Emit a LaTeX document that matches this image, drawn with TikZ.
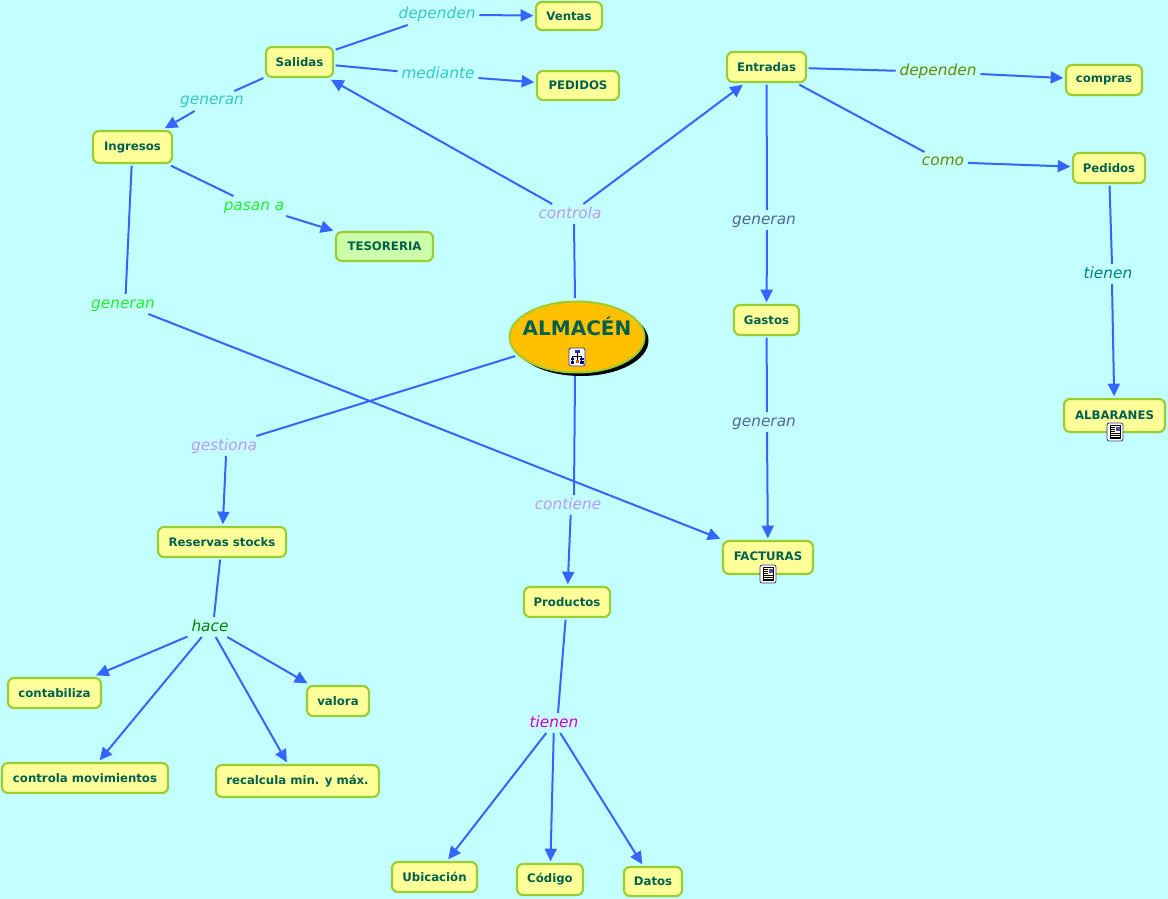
\documentclass[tikz,border=0pt]{standalone}
\usepackage{fontspec}
\setmainfont{DejaVu Sans}
\usetikzlibrary{arrows.meta,shapes.geometric}
\definecolor{bgc}{HTML}{C4FFFF}
\definecolor{boxfill}{HTML}{FFFF99}
\definecolor{greenfill}{HTML}{CCFFAA}
\definecolor{almfill}{HTML}{FFC000}
\definecolor{boxline}{HTML}{9ACD32}
\definecolor{txtc}{HTML}{00604F}
\definecolor{edgec}{HTML}{3366FF}
\definecolor{lcyan}{HTML}{33C8C8}
\definecolor{lgreen}{HTML}{22EE33}
\definecolor{lviolet}{HTML}{BB99EE}
\definecolor{lslate}{HTML}{556699}
\definecolor{lolive}{HTML}{668800}
\definecolor{lteal}{HTML}{008080}
\definecolor{ldgreen}{HTML}{008000}
\definecolor{lmag}{HTML}{CC00CC}
\def\pxu{0.75pt}
\tikzset{
  x=0.75pt,y=-0.75pt,
  conceptbox/.style={draw=boxline,fill=boxfill,line width=1.6pt,rounded corners=4.5pt,inner sep=0pt,outer sep=2pt,
    text=txtc,font=\fontsize{8.8}{11}\selectfont\bfseries},
  linklabel/.style={inner xsep=3pt,inner ysep=1.5pt,outer sep=0pt,text height=9pt,text depth=3pt,font=\fontsize{11.5}{13}\selectfont\itshape},
  link/.style={edgec,line width=1.5pt},
  linkarrow/.style={link,-{Triangle[length=9.5pt,width=9pt]}},
  docicon/.pic={
    \draw[fill=white,draw=blue!45!black!80,line width=.6pt,rounded corners=1.5pt] (-8,-9) rectangle (8,9);
    \fill[yellow!15,draw=black,line width=.4pt] (-5,-6.5) rectangle (5.5,6.5);
    \fill[blue!40!gray] (0.5,-5.5) rectangle (4.5,-1);
    \foreach \yy in {-4.5,-2.5,-.5}{\draw[black,line width=.35pt] (-4,\yy) -- (-.5,\yy);}
    \foreach \yy in {1.5,3.3,5}{\draw[black,line width=.35pt] (-4,\yy) -- (4.5,\yy);}
  },
  mapicon/.pic={
    \draw[fill=white,draw=blue!45!black!80,line width=.6pt,rounded corners=1.5pt] (-8,-9) rectangle (8,9);
    \draw[black,line width=.35pt] (0,-4) -- (0,3) (-4.5,-1) -- (4.5,-1) (-4.5,-1) -- (-4.5,4) (4.5,-1) -- (4.5,4);
    \fill[blue!60!gray] (-2.5,-7) rectangle (2.5,-4);
    \fill[blue!60!black] (-6.5,.5) rectangle (-3,3);
    \fill[blue!60!black] (3,.5) rectangle (6.5,3);
    \fill[orange!80!black] (-1.5,3) rectangle (1.5,6);
    \fill[blue!60!black] (-6.5,4) rectangle (-3,6.5);
    \fill[blue!60!black] (3,4) rectangle (6.5,6.5);
  },
}
\newcommand\bx[7][]{\node[conceptbox,minimum width={(#5-#3)*\pxu},minimum height={(#6-#4)*\pxu},#1] (#2) at ({(#3+#5)/2},{(#4+#6)/2}) {#7};}
\newcommand\lb[4]{\node[linklabel,text=#4] (#1) at (#2) {#3};}
\begin{document}
\begin{tikzpicture}
\path[use as bounding box,fill=bgc] (0,0) rectangle (1168,899);
% central node
\fill[black] (581,340.5) ellipse [x radius=67.5,y radius=35.5];
\node[ellipse,draw=boxline,fill=almfill,line width=1.5pt,minimum width={135*\pxu},minimum height={71*\pxu},inner sep=0pt,outer sep=2.5pt,text=txtc,font=\fontsize{15}{18}\selectfont\bfseries] (alm) at (577,337) {\makebox[0pt]{\raisebox{1pt}[0pt][0pt]{ALMACÉN}}};
% concept boxes
\bx{ventas}{536}{2}{602}{30}{Ventas}
\bx{pedidosa}{537}{71}{619}{100}{PEDIDOS}
\bx{salidas}{266}{47}{333}{77}{Salidas}
\bx{ingresos}{93}{131}{172}{163}{Ingresos}
\bx[fill=greenfill]{tesoreria}{336}{232}{433}{261}{TESORERIA}
\bx{entradas}{727}{52}{806}{82}{Entradas}
\bx{compras}{1066}{65}{1142}{95}{compras}
\bx{pedidosb}{1073}{153}{1145}{183}{Pedidos}
\bx{albaranes}{1064}{399}{1165}{432}{\raisebox{1pt}{ALBARANES}}
\bx{gastos}{734}{305}{799}{335}{Gastos}
\bx{facturas}{723}{541}{813}{574}{\raisebox{1.5pt}{FACTURAS}}
\bx{reservas}{158}{527}{286}{557}{Reservas stocks}
\bx{productos}{524}{587}{610}{617}{Productos}
\bx{contabiliza}{8}{678}{101}{708}{contabiliza}
\bx{valora}{307}{686}{369}{716}{valora}
\bx{movimientos}{2}{763}{168}{793}{controla movimientos}
\bx{recalcula}{216}{765}{379}{797}{recalcula min. y máx.}
\bx{ubicacion}{392}{862}{477}{892}{Ubicación}
\bx{codigo}{517}{864}{583}{895}{Código}
\bx{datos}{624}{867}{682}{896}{Datos}
% link labels
\lb{ldep}{437,15}{dependen}{lcyan}
\lb{lmed}{438,75}{mediante}{lcyan}
\lb{lgen}{212,101}{generan}{lcyan}
\lb{lpas}{254,206}{pasan a}{lgreen}
\lb{lgeni}{123,304}{generan}{lgreen}
\lb{lcon}{570,214}{controla}{lviolet}
\lb{lges}{224,446}{gestiona}{lviolet}
\lb{lcont}{568,505}{contiene}{lviolet}
\lb{lhace}{210,627}{hace}{ldgreen}
\lb{ltien}{554,723}{tienen}{lmag}
\lb{ldepb}{938,72}{dependen}{lolive}
\lb{lcomo}{943,162}{como}{lolive}
\lb{lgenb}{764,220}{generan}{lslate}
\lb{lgenc}{764,422}{generan}{lslate}
\lb{ltienb}{1108,274}{tienen}{lteal}
% connectors
\draw[link] ([xshift=-1.5pt]alm.north) -- ([xshift=3pt]lcon.south);
\draw[linkarrow] (lcon) -- (salidas);
\draw[linkarrow] (lcon) -- (entradas);
\draw[link] (salidas) -- (ldep);
\draw[linkarrow] (ldep.east) -- (ventas);
\draw[link] (salidas) -- (lmed);
\draw[linkarrow] (lmed) -- (pedidosa);
\draw[link] (salidas) -- (lgen);
\draw[linkarrow] (lgen) -- (ingresos);
\draw[link] (ingresos) -- (lpas);
\draw[linkarrow] (lpas) -- (tesoreria);
\draw[link] (ingresos) -- ([xshift=2pt]lgeni.north);
\draw[linkarrow] (lgeni) -- (facturas);
\draw[link] (alm) -- (lges);
\draw[linkarrow] ([xshift=1.5pt]lges.south) -- (reservas);
\draw[link] ([xshift=-1.5pt]alm.south) -- ([xshift=4.5pt]lcont.north);
\draw[linkarrow] ([xshift=2pt]lcont.south) -- (productos);
\draw[link] (reservas) -- ([xshift=3pt]lhace.north);
\draw[linkarrow] (lhace) -- (contabiliza);
\draw[linkarrow] (lhace) -- (valora);
\draw[linkarrow] (lhace) -- (movimientos);
\draw[linkarrow] (lhace) -- (recalcula);
\draw[link] (productos) -- ([xshift=3pt]ltien.north);
\draw[linkarrow] (ltien) -- (ubicacion);
\draw[linkarrow] (ltien) -- (codigo);
\draw[linkarrow] (ltien) -- (datos);
\draw[link] (entradas) -- (ldepb);
\draw[linkarrow] (ldepb) -- (compras);
\draw[link] (entradas) -- (lcomo);
\draw[linkarrow] (lcomo) -- (pedidosb);
\draw[link] (entradas) -- ([xshift=2.25pt]lgenb.north);
\draw[linkarrow] ([xshift=2.25pt]lgenb.south) -- (gastos);
\draw[link] (gastos) -- ([xshift=2.25pt]lgenc.north);
\draw[linkarrow] ([xshift=2.25pt]lgenc.south) -- (facturas);
\draw[link] (pedidosb) -- ([xshift=3pt]ltienb.north);
\draw[linkarrow] ([xshift=3pt]ltienb.south) -- (albaranes);
% icons
\pic at (577,357) {mapicon};
\pic at (1115,432) {docicon};
\pic at (768,574) {docicon};
\end{tikzpicture}
\end{document}
